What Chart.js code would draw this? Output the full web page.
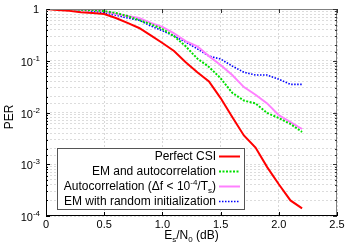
<!DOCTYPE html>
<html>
<head>
<meta charset="utf-8">
<script src="https://cdn.jsdelivr.net/npm/chart.js@4/dist/chart.umd.min.js"></script>
<style>
html,body{margin:0;padding:0;background:#fff;}
#c{display:block;}
</style>
</head>
<body>
<canvas id="c" width="350" height="245"></canvas>
<script>
// ---- data ----
const xValues = [0,0.1,0.2,0.3,0.4,0.5,0.6,0.7,0.8,0.9,1.0,1.1,1.2,1.3,1.4,1.5,1.6,1.7,1.8,1.9,2.0,2.1,2.2];
const perfectCSI = [1,0.96,0.92,0.87,0.84,0.80,0.67,0.54,0.43,0.31,0.22,0.154,0.094,0.060,0.040,0.019,0.0082,0.0036,0.0021,0.00088,0.00041,0.00020,0.00014];
const emAutocorr = [1,0.99,0.98,0.97,0.95,0.91,0.84,0.73,0.61,0.51,0.41,0.30,0.19,0.11,0.076,0.046,0.024,0.017,0.015,0.0098,0.0078,0.0060,0.0042];
const autocorr   = [1,1,0.99,0.98,0.96,0.91,0.80,0.73,0.67,0.54,0.45,0.34,0.24,0.19,0.123,0.083,0.053,0.031,0.022,0.015,0.0089,0.0065,0.0048];
const emRandom   = [1,1,0.99,0.96,0.91,0.84,0.76,0.67,0.61,0.47,0.38,0.30,0.23,0.17,0.123,0.108,0.079,0.060,0.053,0.053,0.044,0.035,0.035];
const seriesNames = ['Perfect CSI','EM and autocorrelation','Autocorrelation','EM with random initialization'];
const yTickExponents = [0,-1,-2,-3,-4];
const xTickStep = 0.5;

const FONT = '"Liberation Sans", Arial, Helvetica, sans-serif';

function pts(ys){ return xValues.map((x,i)=>({x:x,y:ys[i]})); }

const styles = [
  {color:'#ff0000', width:2, dash:[]},
  {color:'#00e000', width:2, dash:[2,1.5]},
  {color:'#ff80ff', width:2, dash:[]},
  {color:'#0000ff', width:1.6, dash:[1.5,1.5]}
];
const allSeries = [perfectCSI, emAutocorr, autocorr, emRandom];

const datasets = allSeries.map((s,i)=>({
  label: seriesNames[i],
  data: pts(s),
  borderColor: styles[i].color,
  borderWidth: styles[i].width,
  borderDash: styles[i].dash,
  pointRadius: 0,
  fill: false,
  tension: 0
}));

function drawRich(ctx, parts, xRight, y, size){
  const small = Math.round(size*0.7);
  let w = 0;
  parts.forEach(p=>{
    ctx.font = (p.mode==='n'? size : small) + 'px ' + FONT;
    p.w = ctx.measureText(p.t).width;
    w += p.w;
  });
  let x = xRight - w;
  ctx.textAlign = 'left';
  ctx.textBaseline = 'alphabetic';
  parts.forEach(p=>{
    ctx.font = (p.mode==='n'? size : small) + 'px ' + FONT;
    let dy = 0;
    if (p.mode==='sup') dy = -size*0.45;
    if (p.mode==='sub') dy = size*0.25;
    ctx.fillText(p.t, x, y + dy);
    x += p.w;
  });
  return w;
}

const decor = {
  id: 'decor',
  afterDraw(chart){
    const ctx = chart.ctx;
    const a = chart.chartArea;
    const ys = chart.scales.y, xs = chart.scales.x;
    ctx.save();
    ctx.lineWidth = 1;
    ctx.strokeStyle = '#808080';
    ctx.beginPath();
    ctx.moveTo(a.left, a.top+0.5); ctx.lineTo(a.right-0.5, a.top+0.5); ctx.lineTo(a.right-0.5, a.bottom);
    ctx.stroke();
    ctx.strokeStyle = '#000';
    ctx.beginPath();
    ctx.moveTo(a.left+0.5, a.top); ctx.lineTo(a.left+0.5, a.bottom-0.5); ctx.lineTo(a.right, a.bottom-0.5);
    ctx.stroke();
    ys.ticks.forEach(t=>{
      const py = Math.round(ys.getPixelForValue(t.value))+0.5;
      const major = Math.abs(Math.log10(t.value) - Math.round(Math.log10(t.value))) < 1e-9;
      const len = major ? 4 : 2;
      ctx.strokeStyle = '#000';
      ctx.beginPath(); ctx.moveTo(a.left, py); ctx.lineTo(a.left+len, py); ctx.stroke();
      ctx.strokeStyle = '#333';
      ctx.beginPath(); ctx.moveTo(a.right, py); ctx.lineTo(a.right-len, py); ctx.stroke();
    });
    xs.ticks.forEach(t=>{
      const px = Math.round(xs.getPixelForValue(t.value))+0.5;
      ctx.strokeStyle = '#000';
      ctx.beginPath(); ctx.moveTo(px, a.bottom); ctx.lineTo(px, a.bottom-4); ctx.stroke();
      ctx.strokeStyle = '#333';
      ctx.beginPath(); ctx.moveTo(px, a.top); ctx.lineTo(px, a.top+4); ctx.stroke();
    });
    ctx.fillStyle = '#000';
    yTickExponents.forEach(e=>{
      const py = ys.getPixelForValue(Math.pow(10,e));
      if (e===0) drawRich(ctx, [{t:'1',mode:'n'}], 39, py+4, 11);
      else drawRich(ctx, [{t:'10',mode:'n'},{t:String(e),mode:'sup'}], 40, py+5, 11);
    });
    ctx.save();
    ctx.translate(10, 117);
    ctx.rotate(-Math.PI/2);
    ctx.font = '12px ' + FONT;
    ctx.textAlign = 'center'; ctx.textBaseline = 'middle';
    ctx.fillText('PER', 0, 0);
    ctx.restore();
    const xt = [{t:'E',mode:'n'},{t:'s',mode:'sub'},{t:'/N',mode:'n'},{t:'0',mode:'sub'},{t:' (dB)',mode:'n'}];
    let tw = 0;
    xt.forEach(p=>{ ctx.font=(p.mode==='n'?12:8)+'px '+FONT; tw += ctx.measureText(p.t).width; });
    drawRich(ctx, xt, (a.left+a.right)/2 + tw/2, 239, 12);

    const L = {x:57, y:148, w:187, h:61};
    ctx.fillStyle = '#fff';
    ctx.fillRect(L.x, L.y, L.w, L.h);
    ctx.strokeStyle = '#555';
    ctx.lineWidth = 1;
    ctx.strokeRect(L.x+0.5, L.y+0.5, L.w, L.h);
    const rows = [156, 171, 186, 201];
    const texts = [
      [{t:'Perfect CSI',mode:'n'}],
      [{t:'EM and autocorrelation',mode:'n'}],
      [{t:'Autocorrelation (\u0394f < 10',mode:'n'},{t:'-4',mode:'sup'},{t:'/T',mode:'n'},{t:'s',mode:'sub'},{t:')',mode:'n'}],
      [{t:'EM with random initialization',mode:'n'}]
    ];
    rows.forEach((ry,i)=>{
      ctx.fillStyle = '#000';
      drawRich(ctx, texts[i], 216, ry+4, 12);
      ctx.strokeStyle = styles[i].color;
      ctx.lineWidth = styles[i].width;
      ctx.setLineDash(styles[i].dash);
      ctx.beginPath(); ctx.moveTo(219, ry+0.5); ctx.lineTo(240, ry+0.5); ctx.stroke();
      ctx.setLineDash([]);
    });
    ctx.restore();
  }
};

new Chart(document.getElementById('c'), {
  type: 'line',
  data: { datasets: datasets },
  options: {
    responsive: false,
    animation: false,
    layout: { padding: { top: 9, right: 13, left: 0, bottom: 0 } },
    plugins: { legend: { display: false }, tooltip: { enabled: false } },
    scales: {
      x: {
        type: 'linear',
        min: 0, max: 2.5,
        ticks: { stepSize: xTickStep, color: '#000', font: { family: FONT, size: 11 }, padding: 2, maxRotation: 0 },
        grid: { color: '#d8d8d8', lineWidth: 1, drawTicks: false },
        border: { display: false, dash: [2,2] },
        afterFit(s){ s.height = 29; }
      },
      y: {
        type: 'logarithmic',
        min: 0.0001, max: 1,
        ticks: { display: false },
        grid: { color: '#dcdcdc', lineWidth: 1, drawTicks: false },
        border: { display: false, dash: [2,2] },
        afterFit(s){ s.width = 46; }
      }
    }
  },
  plugins: [decor]
});
</script>
</body>
</html>
